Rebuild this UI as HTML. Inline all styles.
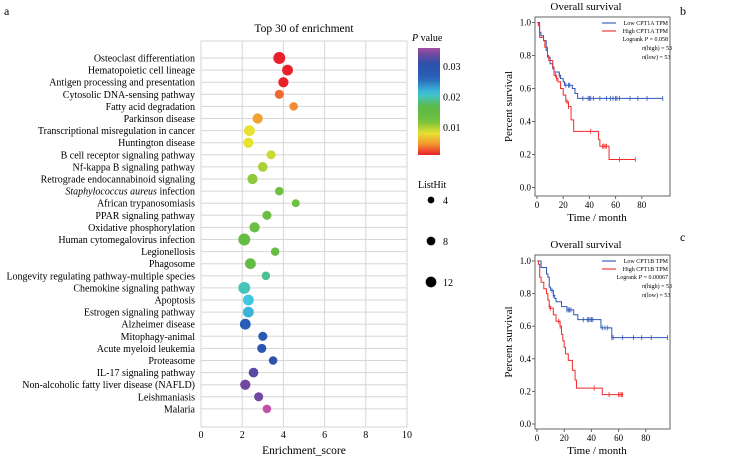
<!DOCTYPE html>
<html><head><meta charset="utf-8">
<style>
html,body{margin:0;padding:0;background:#fff;}
svg{display:block;font-family:"Liberation Serif",serif;}
</style></head>
<body>
<svg id="fig" width="729" height="463" viewBox="0 0 729 463" xmlns="http://www.w3.org/2000/svg">
<text x="4" y="15" font-size="12">a</text>
<text x="680" y="15" font-size="12">b</text>
<text x="680" y="241" font-size="12">c</text>
<g id="dot"></g>
<g id="kmb"></g>
<g id="kmc"></g>
</svg>
<script>
const categories=["Osteoclast differentiation","Hematopoietic cell lineage","Antigen processing and presentation","Cytosolic DNA-sensing pathway","Fatty acid degradation","Parkinson disease","Transcriptional misregulation in cancer","Huntington disease","B cell receptor signaling pathway","Nf-kappa B signaling pathway","Retrograde endocannabinoid signaling","Staphylococcus aureus infection","African trypanosomiasis","PPAR signaling pathway","Oxidative phosphorylation","Human cytomegalovirus infection","Legionellosis","Phagosome","Longevity regulating pathway-multiple species","Chemokine signaling pathway","Apoptosis","Estrogen signaling pathway","Alzheimer disease","Mitophagy-animal","Acute myeloid leukemia","Proteasome","IL-17 signaling pathway","Non-alcoholic fatty liver disease  (NAFLD)","Leishmaniasis","Malaria"];
const enrichment=[3.8,4.2,4.0,3.8,4.5,2.75,2.35,2.3,3.4,3.0,2.5,3.8,4.6,3.2,2.6,2.1,3.6,2.4,3.15,2.1,2.3,2.3,2.15,3.0,2.95,3.5,2.55,2.15,2.8,3.2];
const pvalues=[0.001,0.0008,0.001,0.003,0.004,0.005,0.008,0.008,0.009,0.010,0.011,0.012,0.012,0.013,0.013,0.014,0.014,0.015,0.019,0.020,0.021,0.022,0.027,0.028,0.029,0.030,0.033,0.034,0.034,0.037];
const listHits=[12,10,9,7,6,9,10,9,7,8,9,6,5,7,9,12,6,10,6,12,10,10,10,7,7,6,8,9,7,6];
const xTicks=[0,2,4,6,8,10];
const pTicks=[0.01,0.02,0.03];
const hitTicks=[4,8,12];

const NS="http://www.w3.org/2000/svg";
function mk(parent,tag,attrs,text){const e=document.createElementNS(NS,tag);for(const k in attrs)e.setAttribute(k,attrs[k]);if(text!==undefined)e.textContent=text;parent.appendChild(e);return e;}

const stops=[[0,[232,32,42]],[0.001,[232,32,42]],[0.004,[243,140,48]],[0.008,[232,226,48]],[0.012,[110,192,64]],[0.017,[92,184,72]],[0.021,[62,200,224]],[0.026,[42,96,184]],[0.031,[44,80,168]],[0.034,[112,72,160]],[0.037,[192,80,168]],[1,[192,80,168]]];
function pColor(p){for(let i=0;i<stops.length-1;i++){const a=stops[i],b=stops[i+1];if(p>=a[0]&&p<=b[0]){const t=(p-a[0])/(b[0]-a[0]||1);const c=a[1].map((v,j)=>Math.round(v+(b[1][j]-v)*t));return `rgb(${c})`;}}return "rgb(192,80,168)";}

// Dot plot
const dg=document.getElementById('dot');
const X0=201,X1=407,Y0=41,Y1=427,rowTop=58,rowStep=12.1;
const xs=v=>X0+(v/10)*(X1-X0);
const ys=i=>rowTop+i*rowStep;
const rs=h=>2.6+h*0.28;
let t=mk(dg,'text',{x:304,y:32,'font-size':11.5,'text-anchor':'middle'},'Top 30 of enrichment');


let r=mk(dg,'rect',{x:X0,y:Y0,width:X1-X0,height:Y1-Y0,fill:'#fff',stroke:'#d6d6d6'});


xTicks.forEach(v=>{
  const l=mk(dg,'line',{x1:xs(v),x2:xs(v),y1:Y0,y2:Y1,stroke:'#d6d6d6'});
  
  
  const tx=mk(dg,'text',{x:xs(v),y:Y1+11,'font-size':10,'text-anchor':'middle'},String(v));
  
  
});
t=mk(dg,'text',{x:304,y:454,'font-size':11.5,'text-anchor':'middle'},'Enrichment_score');


categories.forEach((c,i)=>{
  const l=mk(dg,'line',{x1:X0,x2:X1,y1:ys(i),y2:ys(i),stroke:'#d6d6d6'});
  
  
  const tx=mk(dg,'text',{x:195,y:ys(i)+3.5,'font-size':10,'text-anchor':'end'});
  if(c.startsWith('Staphylococcus')){mk(tx,'tspan',{'font-style':'italic'},'Staphylococcus aureus');mk(tx,'tspan',{},' infection');}
  else tx.textContent=c;
  
  
});
categories.forEach((c,i)=>{
  const d=mk(dg,'circle',{cx:xs(enrichment[i]),cy:ys(i),r:rs(listHits[i]),fill:pColor(pvalues[i])});
  
  
});
// colorbar
const CB0=48,CB1=155,pMax=0.036,pMin=0.0008;
const cy=p=>CB1-(p-pMin)/(pMax-pMin)*(CB1-CB0);
const defs=mk(dg,'defs',{});
const grad=mk(defs,'linearGradient',{id:'pg',x1:0,y1:1,x2:0,y2:0});
for(let k=0;k<=20;k++){const p=pMin+(pMax-pMin)*k/20;mk(grad,'stop',{offset:k/20,'stop-color':pColor(p)});}
t=mk(dg,'text',{x:412,y:41,'font-size':10},'');
mk(t,'tspan',{'font-style':'italic'},'P');mk(t,'tspan',{},' value');


r=mk(dg,'rect',{x:418,y:CB0,width:22,height:CB1-CB0,fill:'url(#pg)'});


pTicks.forEach(p=>{
  const tx=mk(dg,'text',{x:443,y:cy(p)+4,'font-size':10},String(p));
  
  
});
t=mk(dg,'text',{x:418,y:188,'font-size':10},'ListHit');


hitTicks.forEach((h,k)=>{
  const yy=200+k*41;
  const c=mk(dg,'circle',{cx:431,cy:yy,r:rs(h)*0.9,fill:'#000'});
  
  
  const tx=mk(dg,'text',{x:443,y:yy+4,'font-size':10},String(h));
  
  
});

// KM data
const bLowTimes=[0,2,3,5,7,8,10,12,13,17,18,20,21,27,29,31,96];
const bLowSurv=[1,0.94,0.92,0.89,0.83,0.79,0.75,0.72,0.70,0.68,0.66,0.64,0.62,0.60,0.57,0.54,0.54];
const bLowCens=[17,22,24,25,35,39,40,41,43,48,53,56,58,60,61,63,71,77,84,96];
const bHighTimes=[0,1,2,5,6,8,9,12,13,15,16,18,20,22,24,26,28,47,48,55,75];
const bHighSurv=[1,0.98,0.91,0.89,0.85,0.80,0.77,0.73,0.68,0.66,0.64,0.60,0.56,0.52,0.49,0.41,0.34,0.29,0.25,0.17,0.17];
const bHighCens=[14,15,23,24,41,50,51,52,53,63,75];
const cLowTimes=[0,3,7,8,9,10,12,13,14,18,22,27,30,47,55,96];
const cLowSurv=[1,0.96,0.92,0.90,0.84,0.82,0.79,0.77,0.75,0.72,0.70,0.67,0.64,0.59,0.53,0.53];
const cLowCens=[11,12,22,23,24,25,34,37,38,39,40,41,48,50,52,55,56,63,71,77,84,96];
const cHighTimes=[0,1,2,3,5,7,8,9,10,12,14,17,18,19,20,21,23,26,28,29,48,63];
const cHighSurv=[1,0.98,0.90,0.87,0.83,0.80,0.76,0.72,0.71,0.67,0.63,0.60,0.55,0.51,0.47,0.43,0.39,0.33,0.27,0.22,0.18,0.18];
const cHighCens=[9,10,16,17,42,53,60,61,62,63];
const kmXTicks=[0,20,40,60,80];
const kmYTicks=[0,0.2,0.4,0.6,0.8,1.0];

function survAt(times,surv,t){let s=1;for(let i=0;i<times.length;i++){if(times[i]<=t)s=surv[i];}return s;}
function km(gid,cfg){
  const g=document.getElementById(gid);
  const {bx0,bx1,by0,by1,x0,xpm,y1,y0,gene,pval,lowT,lowS,lowC,highT,highS,highC}=cfg;
  const xs=m=>x0+m*xpm, ysc=s=>y0-(y0-y1)*s;
  let e=mk(g,'text',{x:586,y:by0-7,'font-size':11,'text-anchor':'middle'},'Overall survival');
  
  
  e=mk(g,'rect',{x:bx0,y:by0,width:bx1-bx0,height:by1-by0,fill:'none',stroke:'#666'});
  
  
  kmYTicks.forEach(v=>{
    const l=mk(g,'line',{x1:bx0-3,x2:bx0,y1:ysc(v),y2:ysc(v),stroke:'#666'});
    
    
    const tx=mk(g,'text',{x:bx0-4,y:ysc(v)+3,'font-size':9,'text-anchor':'end'},v.toFixed(1));
    
    
  });
  kmXTicks.forEach(v=>{
    const l=mk(g,'line',{x1:xs(v),x2:xs(v),y1:by1,y2:by1+3,stroke:'#666'});
    
    
    const tx=mk(g,'text',{x:xs(v),y:by1+12,'font-size':9,'text-anchor':'middle'},String(v));
    
    
  });
  e=mk(g,'text',{x:597,y:by1+25,'font-size':11,'text-anchor':'middle'},'Time / month');
  
  
  const ym=(by0+by1)/2;
  e=mk(g,'text',{x:0,y:0,'font-size':11,'text-anchor':'middle',transform:`translate(${bx0-23},${ym}) rotate(-90)`},'Percent survival');
  
  
  [[lowT,lowS,lowC,'#2f55b5','low'],[highT,highS,highC,'#f02a2a','high']].forEach(([T,S,C,col,nm])=>{
    let d=`M${xs(T[0])},${ysc(S[0])}`;
    for(let i=1;i<T.length;i++){d+=` H${xs(T[i])} V${ysc(S[i])}`;}
    const p=mk(g,'path',{d:d,fill:'none',stroke:col,'stroke-width':1});
    
    
    C.forEach(c=>{
      const yy=ysc(survAt(T,S,c));
      const l=mk(g,'line',{x1:xs(c),x2:xs(c),y1:yy-2.5,y2:yy+2.5,stroke:col,'stroke-width':0.8});
      
      
    });
  });
  const lx=bx1-68, ly=cfg.legY;
  [['Low '+gene+' TPM','#2f55b5'],['High '+gene+' TPM','#f02a2a']].forEach(([lab,col],k)=>{
    const l=mk(g,'line',{x1:lx,x2:lx+14,y1:ly+k*8,y2:ly+k*8,stroke:col,'stroke-width':1.1});
    
    
    const tx=mk(g,'text',{x:bx1-2,y:ly+k*8+2.2,'font-size':6,'text-anchor':'end'},lab);
    
    
  });
  e=mk(g,'text',{x:bx1-2,y:ly+18,'font-size':6,'text-anchor':'end'});
  mk(e,'tspan',{},'Logrank ');mk(e,'tspan',{'font-style':'italic'},'P');mk(e,'tspan',{},' = '+pval);
  
  
  ['high','low'].forEach((n,k)=>{
    const tx=mk(g,'text',{x:cfg.nx,y:ly+27+k*9,'font-size':6});
    mk(tx,'tspan',{'font-style':'italic'},'n');mk(tx,'tspan',{},'('+n+') = 53');
    
    
  });
}
km('kmb',{bx0:535,bx1:670,by0:17,by1:196,x0:537,xpm:1.31,y1:22.5,y0:187.5,gene:'CPT1A',pval:'0.058',lowT:bLowTimes,lowS:bLowSurv,lowC:bLowCens,highT:bHighTimes,highS:bHighSurv,highC:bHighCens,legY:23,nx:642});
km('kmc',{bx0:535,bx1:670,by0:255,by1:429,x0:537,xpm:1.36,y1:261,y0:424,gene:'CPT1B',pval:'0.00067',lowT:cLowTimes,lowS:cLowSurv,lowC:cLowCens,highT:cHighTimes,highS:cHighSurv,highC:cHighCens,legY:261,nx:642});
</script>
</body></html>
